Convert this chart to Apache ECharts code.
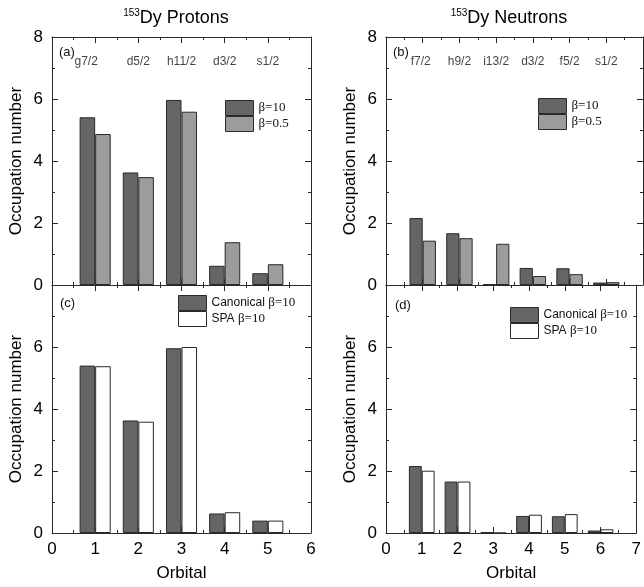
<!DOCTYPE html>
<html>
<head>
<meta charset="utf-8">
<script src="https://cdn.jsdelivr.net/npm/echarts@6/dist/echarts.min.js"></script>
<style>html,body{margin:0;padding:0;background:#fff;}#c{width:644px;height:587px;}</style>
</head>
<body>
<div id="c"></div>
<script>
// ---- data ----
const protonOrbitals = ['g7/2', 'd5/2', 'h11/2', 'd3/2', 's1/2'];
const neutronOrbitals = ['f7/2', 'h9/2', 'i13/2', 'd3/2', 'f5/2', 's1/2'];
const protonBeta10 = [5.41, 3.63, 5.97, 0.62, 0.38];
const protonBeta05 = [4.87, 3.48, 5.59, 1.38, 0.67];
const neutronBeta10 = [2.16, 1.67, 0.03, 0.55, 0.54, 0.08];
const neutronBeta05 = [1.43, 1.51, 1.33, 0.29, 0.35, 0.09];
const protonCanonical = [5.40, 3.63, 5.96, 0.63, 0.40];
const protonSPA = [5.38, 3.59, 6.00, 0.67, 0.40];
const neutronCanonical = [2.16, 1.66, 0.03, 0.55, 0.54, 0.08];
const neutronSPA = [2.01, 1.66, 0.00, 0.59, 0.61, 0.12];
const protonXMax = 6;
const neutronXMax = 7;
const yMax = 8;
const orbitalLabelLevel = 7.2;

// ---- style ----
const DARK = '#656565', LIGHT = '#9c9c9c', WHITE = '#ffffff', EDGE = '#2a2a2a';
const SANS = 'Liberation Sans', SERIF = 'Liberation Serif';

const grids = [
  { left: 52, top: 37, width: 259, height: 248 },
  { left: 386, top: 37, width: 257, height: 248 },
  { left: 52, top: 285, width: 259, height: 248 },
  { left: 386, top: 285, width: 257, height: 248 }
];
const xMaxes = [protonXMax, neutronXMax, protonXMax, neutronXMax];

const lineStyle = { color: EDGE, width: 1 };
const xAxes = [], yAxes = [];
grids.forEach((g, gi) => {
  const bottomPanel = gi >= 2;
  xAxes.push({
    type: 'value', gridIndex: gi, position: 'bottom', min: 0, max: xMaxes[gi], interval: 1,
    axisLine: { show: true, onZero: false, lineStyle },
    axisTick: { show: true, inside: true, length: 6, lineStyle },
    minorTick: { show: true, splitNumber: 2, length: 3, lineStyle },
    splitLine: { show: false },
    axisLabel: { show: bottomPanel, fontSize: 17, fontFamily: SANS, color: '#000', margin: 8 },
    name: bottomPanel ? 'Orbital' : '', nameLocation: 'middle', nameGap: 32,
    nameTextStyle: { fontSize: 17, fontFamily: SANS, color: '#000' }
  });
  xAxes.push({
    type: 'value', gridIndex: gi, position: 'top', min: 0, max: xMaxes[gi], interval: 1,
    axisLine: { show: true, onZero: false, lineStyle },
    axisTick: { show: true, inside: true, length: 6, lineStyle },
    minorTick: { show: true, splitNumber: 2, length: 3, lineStyle },
    splitLine: { show: false }, axisLabel: { show: false }
  });
  yAxes.push({
    type: 'value', gridIndex: gi, position: 'left', min: 0, max: yMax, interval: 2,
    axisLine: { show: true, onZero: false, lineStyle },
    axisTick: { show: true, inside: true, length: 6, lineStyle },
    minorTick: { show: true, splitNumber: 2, length: 3, lineStyle },
    splitLine: { show: false },
    axisLabel: { show: true, fontSize: 17, fontFamily: SANS, color: '#000', margin: 9, showMaxLabel: !bottomPanel },
    name: 'Occupation number', nameLocation: 'middle', nameGap: 27,
    nameTextStyle: { fontSize: 17, fontFamily: SANS, color: '#000' }
  });
  yAxes.push({
    type: 'value', gridIndex: gi, position: 'right', min: 0, max: yMax, interval: 2,
    axisLine: { show: true, onZero: false, lineStyle },
    axisTick: { show: true, inside: true, length: 6, lineStyle },
    minorTick: { show: true, splitNumber: 2, length: 3, lineStyle },
    splitLine: { show: false }, axisLabel: { show: false }
  });
});

function toPairs(vals) { return vals.map((v, i) => [i + 1, v]); }
function barSeries(name, vals, gi, color) {
  return {
    type: 'bar', name, xAxisIndex: gi * 2, yAxisIndex: gi * 2, data: toPairs(vals),
    barWidth: '36%', barGap: '0%',
    itemStyle: { color, borderColor: EDGE, borderWidth: 1 },
    emphasis: { disabled: true }, animation: false
  };
}
function labelSeries(labels, gi, firstOffset) {
  return {
    type: 'scatter', xAxisIndex: gi * 2, yAxisIndex: gi * 2, symbolSize: 0, silent: true,
    data: labels.map((l, i) => ({ value: [i + 1, orbitalLabelLevel], name: l,
      label: i === 0 ? { offset: [firstOffset, 0] } : {} })),
    label: { show: true, position: 'inside', formatter: p => p.name, fontSize: 12, fontFamily: SANS, color: '#111' },
    animation: false
  };
}

const series = [
  barSeries('β=10', protonBeta10, 0, DARK),
  barSeries('β=0.5', protonBeta05, 0, LIGHT),
  barSeries('β=10', neutronBeta10, 1, DARK),
  barSeries('β=0.5', neutronBeta05, 1, LIGHT),
  barSeries('Canonical β=10', protonCanonical, 2, DARK),
  barSeries('SPA β=10', protonSPA, 2, WHITE),
  barSeries('Canonical β=10', neutronCanonical, 3, DARK),
  barSeries('SPA β=10', neutronSPA, 3, WHITE),
  labelSeries(protonOrbitals, 0, -9),
  labelSeries(neutronOrbitals, 1, -2)
];

function legend(names, left, top) {
  return {
    data: names, left, top, orient: 'vertical', itemWidth: 28, itemHeight: 15, itemGap: 0,
    padding: 0, icon: 'rect', selectedMode: false,
    itemStyle: { borderWidth: 1, borderColor: EDGE },
    formatter: n => n.indexOf('Canonical') === 0 ? '{s|Canonical }{b|β=10}' : (n.indexOf('SPA') === 0 ? '{s|SPA }{b|β=10}' : '{b|' + n + '}'),
    textStyle: { rich: {
      s: { fontFamily: SANS, fontSize: 12, color: '#111' },
      b: { fontFamily: SERIF, fontSize: 13, color: '#111' }
    } }
  };
}

const titleRich = {
  sup: { fontFamily: SANS, fontSize: 10, color: '#000', verticalAlign: 'bottom', padding: [0, 0, 10, 0] },
  main: { fontFamily: SANS, fontSize: 18, color: '#000' }
};

const option = {
  backgroundColor: '#fff',
  animation: false,
  grid: grids,
  xAxis: xAxes,
  yAxis: yAxes,
  series,
  legend: [
    legend(['β=10', 'β=0.5'], 225, 100),
    legend(['β=10', 'β=0.5'], 538, 98),
    legend(['Canonical β=10', 'SPA β=10'], 178, 295),
    legend(['Canonical β=10', 'SPA β=10'], 510, 307)
  ],
  graphic: [
    { type: 'text', x: 176, y: 18, style: { text: '{sup|153}{main|Dy Protons}', rich: titleRich, align: 'center', verticalAlign: 'middle' } },
    { type: 'text', x: 509, y: 18, style: { text: '{sup|153}{main|Dy Neutrons}', rich: titleRich, align: 'center', verticalAlign: 'middle' } },
    { type: 'text', x: 59, y: 52, style: { text: '(a)', font: '13px "Liberation Sans"', fill: '#111', verticalAlign: 'middle' } },
    { type: 'text', x: 393, y: 52, style: { text: '(b)', font: '13px "Liberation Sans"', fill: '#111', verticalAlign: 'middle' } },
    { type: 'text', x: 60, y: 303, style: { text: '(c)', font: '13px "Liberation Sans"', fill: '#111', verticalAlign: 'middle' } },
    { type: 'text', x: 395, y: 305, style: { text: '(d)', font: '13px "Liberation Sans"', fill: '#111', verticalAlign: 'middle' } }
  ]
};

const chart = echarts.init(document.getElementById('c'), null, { renderer: 'canvas' });
chart.setOption(option);
</script>
</body>
</html>
